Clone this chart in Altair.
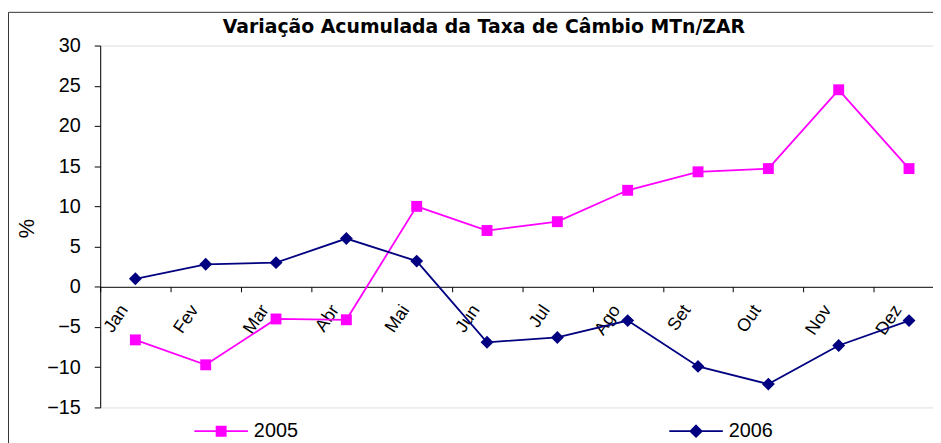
import json
import altair as alt
import pandas as pd

# ---- data ----
months = ["Jan", "Fev", "Mar", "Abr", "Mai", "Jun", "Jul", "Ago", "Set", "Out", "Nov", "Dez"]
series_names = ["2005", "2006"]
values_2005 = [-6.6, -9.7, -4.0, -4.1, 10.0, 7.0, 8.1, 12.0, 14.3, 14.7, 24.5, 14.7]
values_2006 = [1.0, 2.8, 3.0, 6.0, 3.2, -6.9, -6.3, -4.2, -9.9, -12.1, -7.3, -4.2]
y_ticks = [-15, -10, -5, 0, 5, 10, 15, 20, 25, 30]
title_text = "Variação Acumulada da Taxa de Câmbio MTn/ZAR"
y_title = "%"

rows = []
for i, m in enumerate(months):
    rows.append({"idx": i, "month": m, "year": series_names[0], "value": values_2005[i]})
    rows.append({"idx": i, "month": m, "year": series_names[1], "value": values_2006[i]})
df = pd.DataFrame(rows)

# ---- layout / style ----
W, H = 840, 365
BAND = 70.94
colors = ["#FF00FF", "#000080"]
FONT = "Liberation Sans"

x_scale = alt.Scale(domain=[0, W / BAND], nice=False, zero=False)
y_scale = alt.Scale(domain=[-15, 30], nice=False, zero=False)

month_expr = json.dumps(months) + "[datum.value]"

x_enc = alt.X(
    "pos:Q",
    scale=x_scale,
    axis=alt.Axis(
        values=list(range(12)),
        labelExpr=month_expr,
        offset=-H * (15 / 45),
        title=None,
        grid=False,
        domainColor="#000000",
        domainWidth=1,
        tickColor="#000000",
        tickSize=5,
        labelAngle=-56,
        labelAlign="right",
        labelBaseline="middle",
        labelOffset=24,
        labelPadding=15,
        labelFont=FONT,
        labelFontSize=18,
        labelColor="#000000",
        labelOverlap=False,
        labelFlush=False,
        labelBound=False,
    ),
)
y_enc = alt.Y(
    "value:Q",
    scale=y_scale,
    axis=alt.Axis(
        values=y_ticks,
        title=y_title,
        titleAngle=270,
        titleX=-74,
        titleY=184,
        titleAlign="center",
        titleBaseline="middle",
        titleFont=FONT,
        titleFontSize=22,
        titleFontWeight="normal",
        titleColor="#000000",
        grid=False,
        domainColor="#000000",
        domainWidth=1,
        tickColor="#000000",
        tickSize=6,
        labelPadding=14,
        labelFont=FONT,
        labelFontSize=20,
        labelColor="#000000",
        labelBaseline="middle",
    ),
)

# legend symbols: a line with a (stroke-filled) marker in the middle
SQ = ("M-1,0L1,0M-0.17,-0.17L0.17,-0.17L0.17,0.17L-0.17,0.17Z"
      "M-0.17,-0.11L0.17,-0.11M-0.17,-0.055L0.17,-0.055M-0.17,0.055L0.17,0.055M-0.17,0.11L0.17,0.11")
DI = ("M-1,0L1,0M0,-0.21L0.21,0L0,0.21L-0.21,0Z"
      "M-0.07,-0.14L0.07,-0.14M-0.12,-0.09L0.12,-0.09M-0.16,-0.045L0.16,-0.045"
      "M-0.16,0.045L0.16,0.045M-0.12,0.09L0.12,0.09M-0.07,0.14L0.07,0.14")


def make_legend(symbol_path, x_pos):
    return alt.Legend(
        title=None,
        orient="none",
        legendX=x_pos,
        legendY=361,
        direction="horizontal",
        symbolType=symbol_path,
        symbolSize=2916,
        symbolStrokeWidth=1.8,
        symbolOpacity=1,
        labelFont=FONT,
        labelFontSize=20,
        labelColor="#000000",
        labelOffset=5,
    )


legend_x = [94, 573]
symbols = [SQ, DI]
marker_shapes = ["square", "diamond"]
marker_sizes = [121, 169]

base = alt.Chart(df).transform_calculate(pos="datum.idx + 0.5")

layers = []
for k, name in enumerate(series_names):
    cscale = alt.Scale(domain=[name], range=[colors[k]])
    sub = base.transform_filter(alt.datum.year == name)
    line = sub.mark_line(strokeWidth=1.8).encode(
        x=x_enc,
        y=y_enc,
        color=alt.Color("year:N", scale=cscale, legend=make_legend(symbols[k], legend_x[k])),
    )
    pts = sub.mark_point(
        filled=True, opacity=1, shape=marker_shapes[k], size=marker_sizes[k]
    ).encode(x=x_enc, y=y_enc, color=alt.Color("year:N", scale=cscale, legend=None))
    layers.append(alt.layer(line, pts))

frame = alt.Chart(pd.DataFrame({"f": [0]})).mark_rect(
    filled=False, color="#333333", strokeWidth=1
).encode(
    x=alt.value(-92.5), x2=alt.value(W + 40), y=alt.value(-33.5), y2=alt.value(H + 80)
)

chart = (
    alt.layer(frame, *layers)
    .resolve_scale(color="independent")
    .resolve_legend(color="independent")
    .properties(
        width=W,
        height=H,
        autosize=alt.AutoSizeParams(type="none"),
        padding={"left": 93, "top": 36, "right": 0, "bottom": 34},
        title=alt.TitleParams(
            text=title_text,
            font="DejaVu Sans",
            fontSize=19,
            fontWeight="bold",
            color="#000000",
            anchor="middle",
            dx=-33,
            offset=0,
            dy=40,
            baseline="alphabetic",
        ),
    )
    .configure_view(stroke=None)
    .configure(background="#ffffff")
)

chart.save("out.html", embed_options={"renderer": "svg", "actions": False})
